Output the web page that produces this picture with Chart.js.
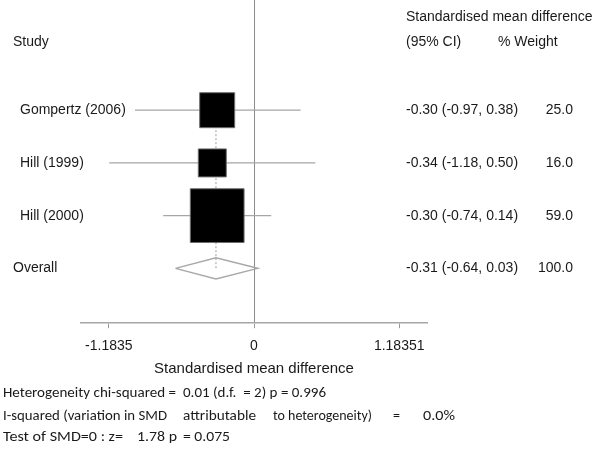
<!DOCTYPE html>
<html>
<head>
<meta charset="utf-8">
<script src="https://cdn.jsdelivr.net/npm/chart.js@4.4.1/dist/chart.umd.min.js"></script>
<style>
  html, body { margin: 0; padding: 0; background: #fff; }
  #wrap { width: 600px; height: 449px; position: relative; }
</style>
</head>
<body>
<div id="wrap"><canvas id="forest"></canvas></div>
<script>
// study level results
const studies = ["Gompertz (2006)", "Hill (1999)", "Hill (2000)"];
const smd = [-0.30, -0.34, -0.30];
const ciLow = [-0.97, -1.18, -0.74];
const ciHigh = [0.38, 0.50, 0.14];
const weights = [25.0, 16.0, 59.0];

// pooled estimate
const overallLabel = "Overall";
const overallSmd = -0.31;
const overallLow = -0.64;
const overallHigh = 0.03;
const overallWeight = 100.0;

// x axis
const tickValues = [-1.1835, 0, 1.18351];
const tickLabels = ["-1.1835", "0", "1.18351"];
const axisTitle = "Standardised mean difference";

const overallRow = studies.length;
const FONT = "'Liberation Sans', Arial, sans-serif";
const FOOT_FONT = "Carlito, Lato, sans-serif";
const INK = "#1a1a1a";

const fmt = v => v.toFixed(2);

// draw text squeezed/stretched to a given width
function fitText(ctx, text, x, y, w) {
  const m = ctx.measureText(text).width;
  ctx.save();
  ctx.translate(x, y);
  ctx.scale(w / m, 1);
  ctx.fillText(text, 0, 0);
  ctx.restore();
}

const textPlugin = {
  id: "forestText",
  afterDraw(chart) {
    const ctx = chart.ctx;
    const y = chart.scales.y;
    ctx.save();
    ctx.fillStyle = INK;
    ctx.textBaseline = "middle";
    ctx.font = "14px " + FONT;

    // headers
    ctx.textAlign = "left";
    ctx.fillText("Standardised mean difference", 406, 17);
    ctx.fillText("Study", 13, 42);
    ctx.fillText("(95% CI)", 406, 42);
    ctx.fillText("% Weight", 498, 42);

    // rows
    studies.forEach((s, i) => {
      const py = y.getPixelForValue(i);
      ctx.textAlign = "left";
      ctx.fillText(s, 20, py);
      ctx.fillText(fmt(smd[i]) + " (" + fmt(ciLow[i]) + ", " + fmt(ciHigh[i]) + ")", 406, py);
      ctx.textAlign = "right";
      ctx.fillText(weights[i].toFixed(1), 573, py);
    });
    const po = y.getPixelForValue(overallRow);
    ctx.textAlign = "left";
    ctx.fillText(overallLabel, 13, po);
    ctx.fillText(fmt(overallSmd) + " (" + fmt(overallLow) + ", " + fmt(overallHigh) + ")", 406, po);
    ctx.textAlign = "right";
    ctx.fillText(overallWeight.toFixed(1), 573, po);

    // heterogeneity footer
    ctx.textAlign = "left";
    ctx.font = "15px " + FOOT_FONT;
    fitText(ctx, "Heterogeneity chi-squared =", 3, 393, 173);
    fitText(ctx, "0.01 (d.f.  = 2) p = 0.996", 183, 393, 143);
    fitText(ctx, "I-squared (variation in SMD", 3, 416, 164);
    fitText(ctx, "attributable", 183, 416, 73);
    fitText(ctx, "to heterogeneity)", 273, 416, 99);
    fitText(ctx, "=", 393, 416, 7);
    fitText(ctx, "0.0%", 423, 416, 32);
    fitText(ctx, "Test of SMD=0 : z=", 3, 437, 120);
    fitText(ctx, "1.78 p", 137, 437, 40);
    fitText(ctx, "= 0.075", 183, 437, 47);
    ctx.restore();
  }
};

const datasets = [
  {
    label: "Study estimate",
    data: smd.map((v, i) => ({ x: v, y: i })),
    showLine: false,
    pointStyle: "rect",
    pointRadius: c => 4.95 * Math.sqrt(weights[c.dataIndex]),
    backgroundColor: "#000",
    borderColor: "#6e6e6e",
    borderWidth: 1,
    order: 0
  },
  {
    label: "Pooled line",
    data: [{ x: overallSmd, y: 0 }, { x: overallSmd, y: overallRow }],
    showLine: true,
    pointRadius: 0,
    borderColor: "#9a9a9a",
    borderWidth: 1,
    borderDash: [2, 2],
    order: 1
  },
  {
    label: overallLabel,
    data: [
      { x: overallLow, y: overallRow },
      { x: overallSmd, y: overallRow - 0.2 },
      { x: overallHigh, y: overallRow },
      { x: overallSmd, y: overallRow + 0.2 },
      { x: overallLow, y: overallRow }
    ],
    showLine: true,
    tension: 0,
    pointRadius: 0,
    borderColor: "#a8a8a8",
    borderWidth: 1.5,
    order: 1
  }
].concat(studies.map((s, i) => ({
  label: s + " CI",
  data: [{ x: ciLow[i], y: i }, { x: ciHigh[i], y: i }],
  showLine: true,
  pointRadius: 0,
  borderColor: "#a6a6a6",
  borderWidth: 1.3,
  order: 2
})));

new Chart(document.getElementById("forest"), {
  type: "scatter",
  data: { datasets: datasets },
  plugins: [textPlugin],
  options: {
    responsive: true,
    maintainAspectRatio: false,
    animation: false,
    layout: { autoPadding: false, padding: { left: 81, right: 173, top: 0, bottom: 67 } },
    plugins: { legend: { display: false }, tooltip: { enabled: false } },
    scales: {
      x: {
        type: "linear",
        min: -1.41,
        max: 1.41,
        afterBuildTicks: axis => { axis.ticks = tickValues.map(v => ({ value: v })); },
        ticks: {
          autoSkip: false,
          maxRotation: 0,
          padding: 10,
          color: INK,
          font: { family: FONT, size: 14 },
          callback: (v, i) => tickLabels[i]
        },
        grid: {
          color: c => (c.tick && c.tick.value === 0 ? "#8c8c8c" : "rgba(0,0,0,0)"),
          tickColor: "#9a9a9a",
          tickLength: 5,
          lineWidth: 1
        },
        border: { display: true, color: "#a6a6a6", width: 1.5 },
        title: {
          display: true,
          text: axisTitle,
          color: INK,
          font: { family: FONT, size: 15 },
          padding: { top: -5, bottom: 4 }
        }
      },
      y: { type: "linear", display: false, reverse: true, min: -2.09, max: 4.04 }
    }
  }
});
</script>
</body>
</html>
